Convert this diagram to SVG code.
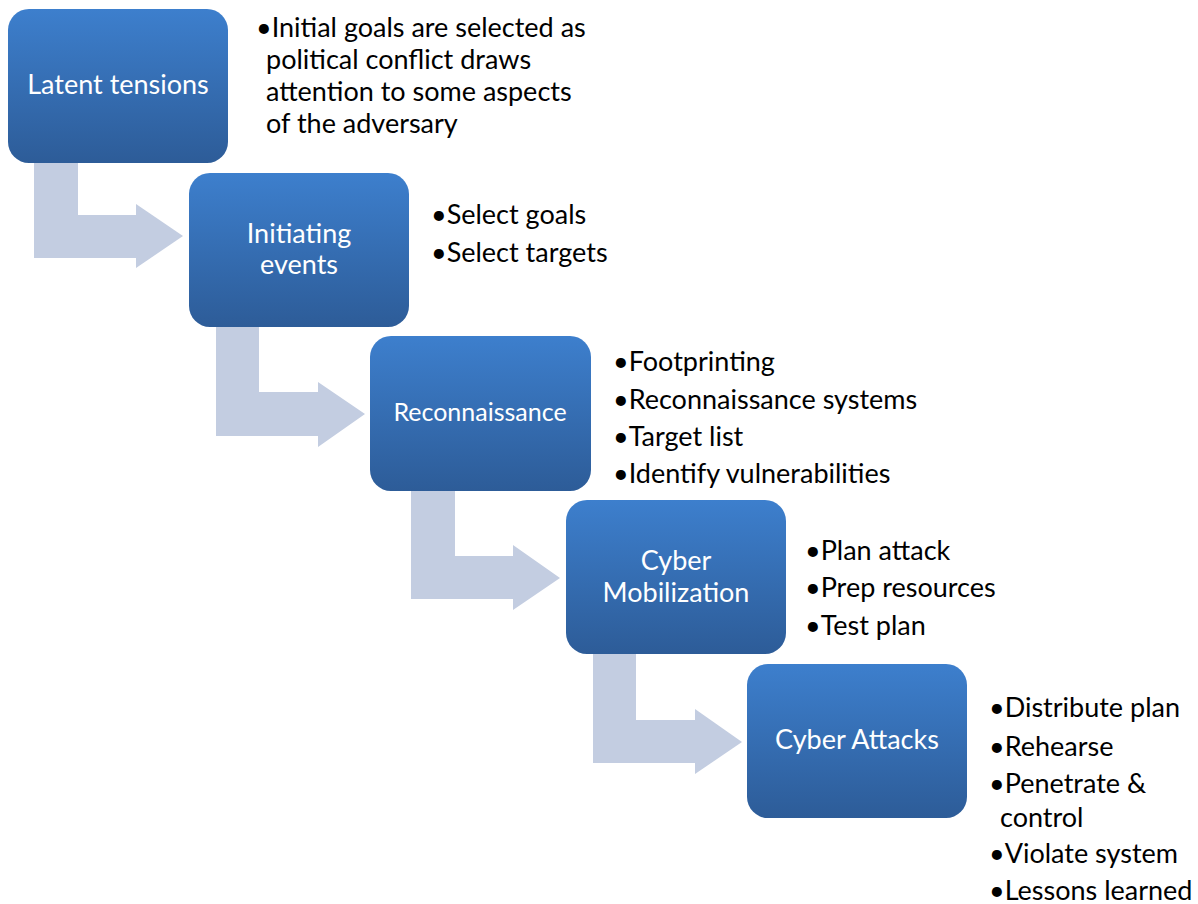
<svg xmlns="http://www.w3.org/2000/svg" width="1198" height="904" viewBox="0 0 1198 904">
<defs>
<linearGradient id="g" x1="0" y1="0" x2="0" y2="1">
<stop offset="0" stop-color="#3D7FCD"/>
<stop offset="1" stop-color="#2D5C98"/>
</linearGradient>
<style>
.box{fill:url(#g);}
.arr{fill:#C3CDE1;}
.lbl{font-family:Lato,"Liberation Sans",sans-serif;font-size:27px;fill:#FFFFFF;text-anchor:middle;}
.bul{font-family:Lato,"Liberation Sans",sans-serif;font-size:27px;fill:#000000;}
</style>
</defs>
<rect width="1198" height="904" fill="#FFFFFF"/>
<g id="connectors">
<path class="arr" d="M34,158 L78,158 L78,215 L136,215 L136,204 L183,236 L136,268 L136,258 L34,258 Z"/>
<path class="arr" d="M216,322 L259,322 L259,392 L318,392 L318,382 L365,414 L318,447 L318,436 L216,436 Z"/>
<path class="arr" d="M411,486 L455,486 L455,556 L513,556 L513,545 L560,578 L513,610 L513,599 L411,599 Z"/>
<path class="arr" d="M593,650 L636,650 L636,720 L695,720 L695,709 L742,742 L695,774 L695,763 L593,763 Z"/>
</g>
<g id="node-latent">
<rect class="box" x="8" y="9" width="220" height="154" rx="21"/>
<text class="lbl" x="118" y="94">Latent tensions</text>
<text class="bul" x="256" y="37">•Initial goals are selected as</text>
<text class="bul" x="266" y="69">political conflict draws</text>
<text class="bul" x="266" y="101">attention to some aspects</text>
<text class="bul" x="266" y="133">of the adversary</text>
</g>
<g id="node-initiating">
<rect class="box" x="189" y="173" width="220" height="154" rx="21"/>
<text class="lbl" x="299" y="243">Initiating</text>
<text class="lbl" x="299" y="274">events</text>
<text class="bul" x="431" y="224">•Select goals</text>
<text class="bul" x="431" y="262">•Select targets</text>
</g>
<g id="node-recon">
<rect class="box" x="370" y="336" width="221" height="155" rx="21"/>
<text class="lbl" x="480" y="421" style="font-size:25px">Reconnaissance</text>
<text class="bul" x="613" y="371">•Footprinting</text>
<text class="bul" x="613" y="409">•Reconnaissance systems</text>
<text class="bul" x="613" y="446">•Target list</text>
<text class="bul" x="613" y="483">•Identify vulnerabilities</text>
</g>
<g id="node-mobilization">
<rect class="box" x="566" y="500" width="220" height="154" rx="21"/>
<text class="lbl" x="676" y="570">Cyber</text>
<text class="lbl" x="676" y="602">Mobilization</text>
<text class="bul" x="805" y="560">•Plan attack</text>
<text class="bul" x="805" y="597">•Prep resources</text>
<text class="bul" x="805" y="635">•Test plan</text>
</g>
<g id="node-attacks">
<rect class="box" x="747" y="664" width="220" height="154" rx="21"/>
<text class="lbl" x="857" y="749">Cyber Attacks</text>
<text class="bul" x="989" y="717">•Distribute plan</text>
<text class="bul" x="989" y="756">•Rehearse</text>
<text class="bul" x="989" y="793">•Penetrate &amp;</text>
<text class="bul" x="1000" y="827">control</text>
<text class="bul" x="989" y="863">•Violate system</text>
<text class="bul" x="989" y="900">•Lessons learned</text>
</g>
</svg>
